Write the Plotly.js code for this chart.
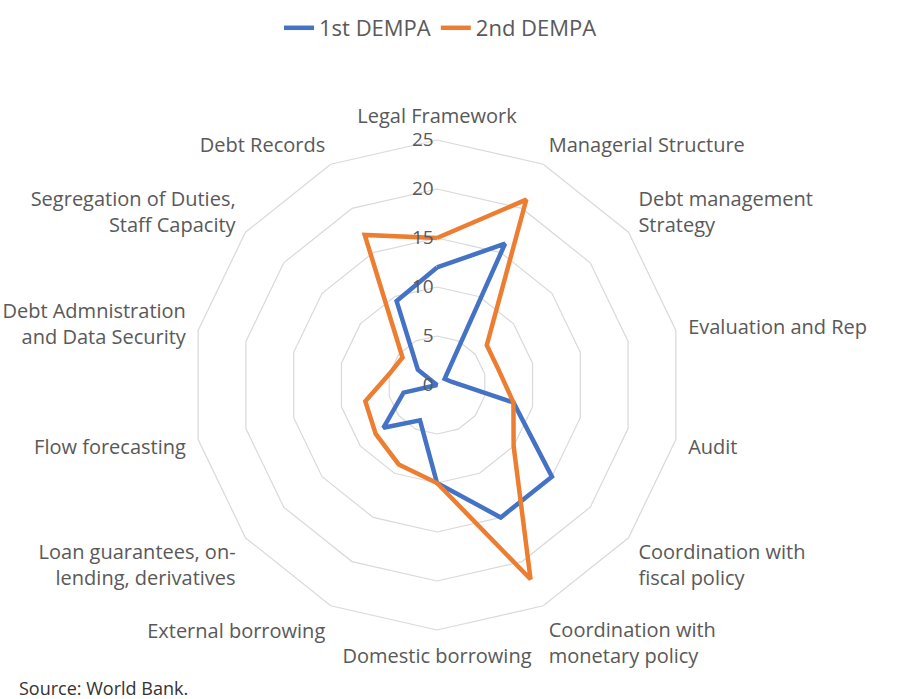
<!DOCTYPE html>
<html>
<head>
<meta charset="utf-8">
<script src="https://cdn.plot.ly/plotly-3.0.1.min.js"></script>
<style>html,body{margin:0;padding:0;background:#fff;}#chart{width:899px;height:699px;}</style>
</head>
<body>
<div id="chart"></div>
<script>
const categories = [
  "Legal Framework",
  "Managerial Structure",
  "Debt management<br>Strategy",
  "Evaluation and Rep",
  "Audit",
  "Coordination with<br>fiscal policy",
  "Coordination with<br>monetary policy",
  "Domestic borrowing",
  "External borrowing",
  "Loan guarantees, on-<br>lending, derivatives",
  "Flow forecasting",
  "Debt Admnistration<br>and Data Security",
  "Segregation of Duties,<br>Staff Capacity",
  "Debt Records"
];
const firstDempa  = [12, 16, 1, 1.5, 8, 15, 15, 10, 4, 7, 3.5, 0, 2.5, 9.5];
const secondDempa = [15, 21, 6.5, 6.5, 8, 10, 22, 10, 9, 8, 7.5, 5, 4.5, 17];
const seriesNames = ["1st DEMPA", "2nd DEMPA"];
const radialTicks = [0, 5, 10, 15, 20, 25];

const closeLoop = a => a.concat([a[0]]);

const W = 899, H = 699, cx = 437, cy = 385, R = 245;

const traces = [
  {type: "scatterpolar", mode: "lines", name: seriesNames[0],
   r: closeLoop(firstDempa), theta: closeLoop(categories),
   line: {color: "#4472C4", width: 4.5}},
  {type: "scatterpolar", mode: "lines", name: seriesNames[1],
   r: closeLoop(secondDempa), theta: closeLoop(categories),
   line: {color: "#ED7D31", width: 4.5}}
];

const layout = {
  width: W, height: H,
  margin: {l: 0, r: 0, t: 0, b: 0},
  paper_bgcolor: "#ffffff",
  font: {family: "Open Sans, sans-serif", color: "#595959"},
  showlegend: true,
  legend: {orientation: "h", x: 0.49, xanchor: "center", y: 0.99, yanchor: "top",
           font: {size: 22, color: "#595959"}, itemwidth: 30, traceorder: "normal"},
  polar: {
    domain: {x: [(cx - R) / W, (cx + R) / W], y: [(H - cy - R) / H, (H - cy + R) / H]},
    bgcolor: "rgba(0,0,0,0)",
    gridshape: "linear",
    radialaxis: {
      range: [0, 25], tickvals: radialTicks, angle: 90, side: "counterclockwise",
      showline: false, ticks: "", gridcolor: "#D9D9D9", gridwidth: 1.2,
      tickfont: {size: 19, color: "#595959"}, tickangle: 90
    },
    angularaxis: {
      type: "category", categoryorder: "array", categoryarray: categories,
      direction: "clockwise", rotation: 90,
      showgrid: false, linecolor: "#D9D9D9", linewidth: 1.2,
      ticks: "outside", ticklen: 8, tickcolor: "rgba(0,0,0,0)",
      tickfont: {size: 20, color: "#595959"}
    }
  },
  annotations: [{
    xref: "paper", yref: "paper", x: 190 / W, y: 1 - 688 / H,
    xanchor: "right", yanchor: "middle", showarrow: false,
    text: "Source: World Bank.", font: {size: 18, color: "#333333", family: "Open Sans, sans-serif"}
  }]
};

Plotly.newPlot("chart", traces, layout, {staticPlot: true});
</script>
</body>
</html>
